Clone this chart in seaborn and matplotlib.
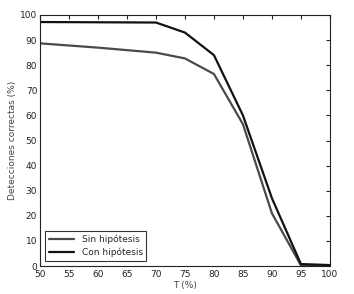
import matplotlib
matplotlib.use('Agg')
from matplotlib import pyplot as plt
import seaborn as sns
import pandas as pd

# umbral T (%) y porcentaje de detecciones correctas
t_vals = [50, 60, 70, 75, 80, 85, 90, 95, 100]
sin_hip = [88.7, 87.0, 85.0, 82.7, 76.5, 56.5, 21.0, 0.3, 0.3]
con_hip = [97.2, 97.1, 97.0, 93.0, 84.0, 60.0, 27.0, 0.8, 0.4]

df = pd.concat([
    pd.DataFrame({'T': t_vals, 'val': sin_hip, 'serie': 'Sin hipótesis'}),
    pd.DataFrame({'T': t_vals, 'val': con_hip, 'serie': 'Con hipótesis'}),
])

sns.set_style('white')
plt.rcParams['font.family'] = ['DejaVu Sans']

fig = plt.figure(figsize=(3.54, 2.94), dpi=100)
ax = fig.add_axes([0.113, 0.095, 0.819, 0.854])

sns.lineplot(data=df, x='T', y='val', hue='serie',
             palette={'Sin hipótesis': '#4a4a4a', 'Con hipótesis': '#111111'},
             linewidth=1.6, ax=ax)

ax.set_xlim(50, 100)
ax.set_ylim(0, 100)
ax.set_xticks(range(50, 101, 5))
ax.set_yticks(range(0, 101, 10))
ax.tick_params(direction='in', length=3, labelsize=6.5, colors='#222222',
               top=True, right=True, pad=2)
ax.tick_params(axis='x', pad=3)
for s in ax.spines.values():
    s.set_color('#222222')
    s.set_linewidth(0.8)
ax.set_xlabel('T (%)', fontsize=6.5, labelpad=1, color='#444444')
ax.set_ylabel('Detecciones correctas (%)', fontsize=6.5, labelpad=2, color='#444444')

leg = ax.legend(loc='lower left', fontsize=6.5, frameon=True, fancybox=False,
                borderaxespad=0.6, handlelength=2.8, borderpad=0.4,
                labelspacing=0.4)
leg.get_frame().set_edgecolor('black')
leg.get_frame().set_linewidth(0.8)

fig.savefig('out.png', dpi=100)
